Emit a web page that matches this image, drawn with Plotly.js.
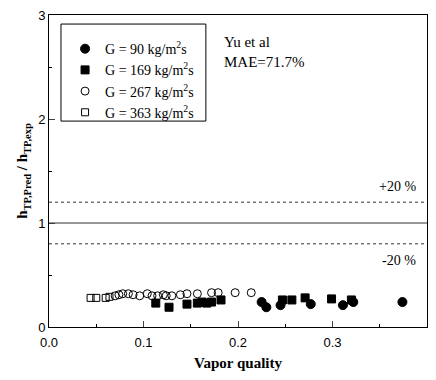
<!DOCTYPE html>
<html>
<head>
<meta charset="utf-8">
<script src="https://cdn.plot.ly/plotly-3.0.1.min.js"></script>
<style>html,body{margin:0;padding:0;background:#fff;}#chart{width:436px;height:380px;}</style>
</head>
<body>
<div id="chart"></div>
<script>
// G = 90 kg/m2s (filled circles)
const g90_x = [0.225, 0.230, 0.245, 0.277, 0.311, 0.322, 0.374];
const g90_y = [0.24, 0.19, 0.21, 0.22, 0.21, 0.24, 0.24];
// G = 169 kg/m2s (filled squares)
const g169_x = [0.113, 0.127, 0.146, 0.157, 0.162, 0.167, 0.172, 0.182, 0.247, 0.257, 0.271, 0.299, 0.320];
const g169_y = [0.23, 0.19, 0.22, 0.23, 0.24, 0.23, 0.24, 0.26, 0.26, 0.26, 0.28, 0.27, 0.26];
// G = 267 kg/m2s (open circles)
const g267_x = [0.070, 0.074, 0.078, 0.084, 0.089, 0.096, 0.104, 0.109, 0.115, 0.121, 0.124, 0.130, 0.139, 0.146, 0.157, 0.172, 0.179, 0.197, 0.214];
const g267_y = [0.30, 0.31, 0.32, 0.32, 0.31, 0.30, 0.32, 0.30, 0.30, 0.31, 0.30, 0.30, 0.31, 0.32, 0.32, 0.33, 0.33, 0.33, 0.33];
// G = 363 kg/m2s (open squares)
const g363_x = [0.044, 0.050, 0.060, 0.064];
const g363_y = [0.28, 0.28, 0.28, 0.29];

const seriesNames = ['G = 90 kg/m<sup>2</sup>s', 'G = 169 kg/m<sup>2</sup>s', 'G = 267 kg/m<sup>2</sup>s', 'G = 363 kg/m<sup>2</sup>s'];
const refLines = [1.0, 1.2, 0.8];
const refLabels = ['+20 %', '-20 %'];
const modelText = ['Yu et al', 'MAE=71.7%'];

const serif = 'Liberation Serif, Times New Roman, serif';
const sans = 'Liberation Sans, Arial, sans-serif';

function tr(x, y, name, symbol, size) {
  return {x: x, y: y, name: name, type: 'scatter', mode: 'markers',
    marker: {symbol: symbol, size: size, color: '#000', line: {color: '#000', width: 1}}};
}
const data = [
  tr(g90_x, g90_y, seriesNames[0], 'circle', 9),
  tr(g169_x, g169_y, seriesNames[1], 'square', 8),
  tr(g267_x, g267_y, seriesNames[2], 'circle-open', 8),
  tr(g363_x, g363_y, seriesNames[3], 'square-open', 7)
];

const layout = {
  width: 436, height: 380,
  margin: {l: 49, r: 9, t: 15, b: 53},
  paper_bgcolor: '#fff', plot_bgcolor: '#fff',
  showlegend: true,
  legend: {x: 0.0425, y: 0.942, xanchor: 'left', yanchor: 'top',
    borderwidth: 0, bgcolor: 'rgba(0,0,0,0)',
    font: {family: serif, size: 14, color: '#000'}, itemwidth: 30, tracegroupgap: 0},
  xaxis: {range: [0, 0.4], dtick: 0.1, tickformat: '.1f', ticks: 'inside', ticklen: 6,
    showline: true, linecolor: '#000', linewidth: 1, mirror: true, showgrid: false, zeroline: false,
    tickfont: {family: sans, size: 13, color: '#000'}, ticklabelstandoff: 3,
    minor: {ticks: 'inside', dtick: 0.05, ticklen: 3, tickcolor: '#000'},
    title: {text: '<b>Vapor quality</b>', font: {family: serif, size: 15, color: '#000'}, standoff: 8}},
  yaxis: {range: [0, 3], dtick: 1, ticks: 'inside', ticklen: 6,
    showline: true, linecolor: '#000', linewidth: 1, mirror: true, showgrid: false, zeroline: false,
    tickfont: {family: sans, size: 13, color: '#000'},
    minor: {ticks: 'inside', dtick: 0.5, ticklen: 3, tickcolor: '#000'},
    title: {text: '<b>h<sub>TP,Pred</sub> / h<sub>TP,exp</sub></b>', font: {family: serif, size: 15, color: '#000'}, standoff: 6}},
  shapes: [
    {type: 'rect', xref: 'paper', yref: 'paper', x0: 0.0317, x1: 0.415, y0: 0.660, y1: 0.971,
      line: {color: '#000', width: 1}, fillcolor: 'rgba(0,0,0,0)', layer: 'above'},
    {type: 'line', xref: 'paper', x0: 0, x1: 1, yref: 'y', y0: refLines[0], y1: refLines[0], line: {color: '#333', width: 1}},
    {type: 'line', xref: 'paper', x0: 0, x1: 1, yref: 'y', y0: refLines[1], y1: refLines[1], line: {color: '#333', width: 1, dash: 'dot'}},
    {type: 'line', xref: 'paper', x0: 0, x1: 1, yref: 'y', y0: refLines[2], y1: refLines[2], line: {color: '#333', width: 1, dash: 'dot'}}
  ],
  annotations: [
    {x: 0.39, y: 1.35, xref: 'x', yref: 'y', text: refLabels[0], showarrow: false, xanchor: 'right',
      font: {family: serif, size: 14, color: '#000'}},
    {x: 0.39, y: 0.64, xref: 'x', yref: 'y', text: refLabels[1], showarrow: false, xanchor: 'right',
      font: {family: serif, size: 14, color: '#000'}},
    {x: 0.458, y: 0.947, xref: 'paper', yref: 'paper', text: modelText[0], showarrow: false, xanchor: 'left',
      font: {family: serif, size: 15, color: '#000'}},
    {x: 0.458, y: 0.882, xref: 'paper', yref: 'paper', text: modelText[1], showarrow: false, xanchor: 'left',
      font: {family: serif, size: 15, color: '#000'}}
  ]
};
Plotly.newPlot('chart', data, layout, {displayModeBar: false, staticPlot: true});
</script>
</body>
</html>
